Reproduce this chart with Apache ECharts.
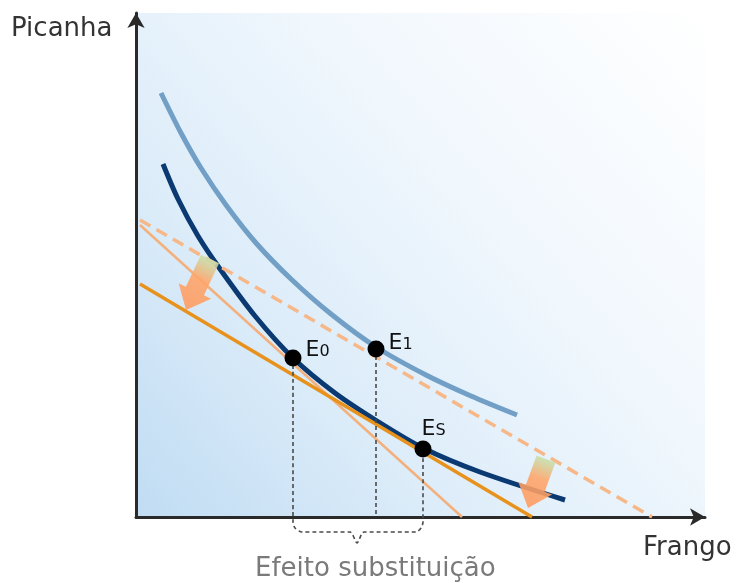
<!DOCTYPE html>
<html>
<head>
<meta charset="utf-8">
<script src="https://cdn.jsdelivr.net/npm/echarts@6/dist/echarts.min.js"></script>
<style>
html,body{margin:0;padding:0;background:#fff;}
#chart{width:738px;height:583px;}
</style>
</head>
<body>
<div id="chart"></div>
<script>
// Data (x = quantity of Frango, y = quantity of Picanha, arbitrary units)
const indifferenceHigh = [[25,424],[45,384],[65,349],[90,312],[120,274],[155,238],[195,203],[240,170],[290,142],[335,121],[381,102]];
const indifferenceLow = [[27,353],[42,318],[62,281],[84,248],[119,201],[157,159],[199,124],[241,96],[287,69],[344,45],[429,17]];
const budgetDashed = [[4,297],[516,0]];
const budgetThin = [[4,292],[326,0]];
const budgetThick = [[4,233],[396,0]];
const pointNames = ['E0','E1','ES'];
const pointX = [157,240,287];
const pointY = [159,168,68];
const braceX = [157,157,159,166,214,221,228,280,285,287,287];
const braceY = [159,-5,-11,-15,-15,-26,-15,-15,-11,-5,68];
const midGuide = [[240,168],[240,0]];
const shiftArrows = [[74,258,50,207],[410,58,392,9]];
const axisNames = ['Frango','Picanha'];
const braceLabel = 'Efeito substituição';

const chart = echarts.init(document.getElementById('chart'), null, {renderer:'canvas'});
const FONT = 'DejaVu Sans';

const labelCfg = {
  E0:{offset:[0,-8], text:'{e|E}{s|0}'},
  E1:{offset:[0,-6], text:'{e|E}{s|1}'},
  ES:{offset:[-14,-20], text:'{e|E}{s|S}'}
};

const option = {
  animation:false,
  grid:{left:136, top:13, width:569, height:504, show:true, borderWidth:0,
    backgroundColor: new echarts.graphic.LinearGradient(0,1,1,0,[
      {offset:0,color:'#c0dcf3'},{offset:0.3,color:'#dcecf9'},{offset:0.6,color:'#f0f7fd'},{offset:1,color:'#ffffff'}])},
  xAxis:{type:'value', min:0, max:569, splitLine:{show:false}, axisTick:{show:false}, axisLabel:{show:false},
    axisLine:{show:true, onZero:false, symbol:['none','arrow'], symbolSize:[13,15], symbolOffset:[0,0],
      lineStyle:{color:'#2a2a2a', width:3}}},
  yAxis:{type:'value', min:0, max:504, splitLine:{show:false}, axisTick:{show:false}, axisLabel:{show:false},
    axisLine:{show:true, onZero:false, symbol:['none','arrow'], symbolSize:[13,15], symbolOffset:[0,0],
      lineStyle:{color:'#2a2a2a', width:3}}},
  series:[
    {type:'line', data:indifferenceHigh, smooth:0.3, showSymbol:false, z:3,
      lineStyle:{color:'#729fc6', width:5, cap:'butt'}},
    {type:'line', data:budgetDashed, showSymbol:false, z:4,
      lineStyle:{color:'#f6b888', width:3.5, type:[12,7]}},
    {type:'line', data:budgetThin, showSymbol:false, z:4,
      lineStyle:{color:'#f3b07c', width:2.5}},
    {type:'line', data:indifferenceLow, smooth:0.3, showSymbol:false, z:3,
      lineStyle:{color:'#0b3a72', width:5, cap:'butt'}},
    {type:'line', data:budgetThick, showSymbol:false, z:4,
      lineStyle:{color:'#e8921e', width:3.5}},
    {type:'line', data:braceX.map((x,i)=>[x,braceY[i]]), smooth:0.25, showSymbol:false, clip:false, z:5,
      lineStyle:{color:'#4a4a4a', width:1.6, type:[4,3]}},
    {type:'line', data:midGuide, showSymbol:false, z:5,
      lineStyle:{color:'#4a4a4a', width:1.6, type:[4,3]}},
    {type:'custom', z:6, data:shiftArrows,
      renderItem:function(params, api){
        const t = api.coord([api.value(0), api.value(1)]);
        const h = api.coord([api.value(2), api.value(3)]);
        const dx = h[0]-t[0], dy = h[1]-t[1];
        const L = Math.sqrt(dx*dx+dy*dy);
        const ux = dx/L, uy = dy/L, px = -uy, py = ux;
        const sw = 10, hw = 18, hl = 21;
        const bx = h[0]-ux*hl, by = h[1]-uy*hl;
        const pts = [
          [t[0]+px*sw, t[1]+py*sw],[bx+px*sw, by+py*sw],[bx+px*hw, by+py*hw],
          [h[0],h[1]],
          [bx-px*hw, by-py*hw],[bx-px*sw, by-py*sw],[t[0]-px*sw, t[1]-py*sw]];
        return {type:'polygon', shape:{points:pts},
          style:{opacity:0.88, fill:new echarts.graphic.LinearGradient(t[0],t[1],h[0],h[1],[
            {offset:0,color:'#c6e1ab'},{offset:0.4,color:'#ffa468'},{offset:1,color:'#ff9a5e'}], true)}};
      }},
    {type:'scatter', z:7, symbolSize:17,
      data:pointNames.map((n,i)=>({name:n, value:[pointX[i],pointY[i]],
        label:{offset:labelCfg[n].offset}})),
      itemStyle:{color:'#000', opacity:1},
      label:{show:true, position:'right', distance:4, color:'#111', fontFamily:FONT, fontSize:22,
        formatter:function(p){return labelCfg[p.name].text;},
        rich:{e:{fontFamily:FONT, fontSize:22, color:'#111', verticalAlign:'bottom'},
              s:{fontFamily:FONT, fontSize:16, color:'#111', verticalAlign:'bottom', padding:[0,0,1,0]}}}}
  ],
  graphic:[
    {type:'text', left:11, top:16, style:{text:axisNames[1], fontFamily:FONT, fontSize:26, fill:'#333'}},
    {type:'text', left:643, top:535, style:{text:axisNames[0], fontFamily:FONT, fontSize:26, fill:'#333'}},
    {type:'text', left:255, top:556, style:{text:braceLabel, fontFamily:FONT, fontSize:26, fill:'#7a7a7a'}}
  ]
};
chart.setOption(option);
</script>
</body>
</html>
